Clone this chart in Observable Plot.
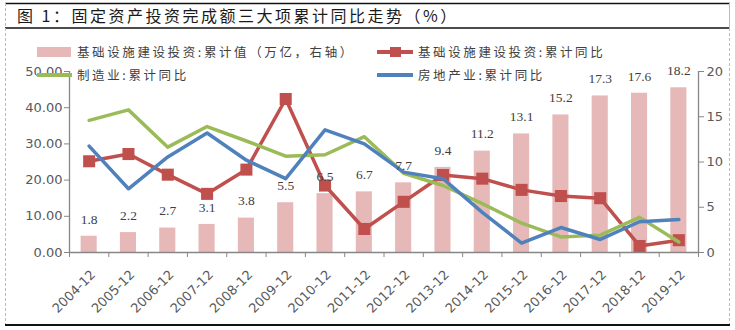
<!DOCTYPE html>
<html><head><meta charset="utf-8">
<script src="https://cdn.jsdelivr.net/npm/d3@7"></script>
<script src="https://cdn.jsdelivr.net/npm/@observablehq/plot@0.6"></script>
<style>
body{margin:0;background:#fff;}
#wrap{position:relative;width:735px;height:330px;overflow:hidden;background:#fff;font-family:"Noto Sans CJK SC",sans-serif;}
#chart{position:absolute;left:0;top:0;}
#deco{position:absolute;left:0;top:0;pointer-events:none;}
.title{position:absolute;left:17px;top:3px;height:25px;line-height:25px;font-size:16px;letter-spacing:2.5px;color:#1a1a1a;white-space:nowrap;}
.lg{position:absolute;font-size:12.5px;letter-spacing:2.6px;color:#404040;white-space:nowrap;line-height:16px;}
.sw{position:absolute;}
</style></head><body>
<div id="wrap">
  <div id="chart"></div>
  <svg id="deco" width="735" height="330">
    <line x1="5" y1="3.5" x2="730" y2="3.5" stroke="#111" stroke-width="1.6"/>
    <line x1="5" y1="28" x2="730" y2="28" stroke="#111" stroke-width="1.4"/>
    <line x1="729.5" y1="3" x2="729.5" y2="28" stroke="#bbb" stroke-width="1"/>
    <line x1="5.5" y1="3" x2="5.5" y2="325" stroke="#bbb" stroke-width="1" stroke-dasharray="3,2"/>
    <line x1="729.5" y1="28" x2="729.5" y2="325" stroke="#bbb" stroke-width="1" stroke-dasharray="3,2"/>
    <line x1="5" y1="325" x2="730" y2="325" stroke="#111" stroke-width="1.8"/>
  </svg>
  <div class="title">图 1：固定资产投资完成额三大项累计同比走势（%）</div>
  <div class="sw" style="left:37px;top:47px;width:34px;height:10px;background:#E6B9B8"></div>
  <div class="lg" style="left:77px;top:44px;">基础设施建设投资:累计值（万亿，右轴）</div>
  <div class="sw" style="left:377px;top:50px;width:36px;height:4px;background:#C0504D"></div>
  <div class="sw" style="left:390px;top:47px;width:11px;height:10px;background:#C0504D"></div>
  <div class="lg" style="left:418px;top:44px;">基础设施建设投资:累计同比</div>
  <div class="sw" style="left:37px;top:73px;width:35px;height:4px;background:#9BBB59"></div>
  <div class="lg" style="left:77px;top:67px;">制造业:累计同比</div>
  <div class="sw" style="left:377px;top:73px;width:36px;height:4px;background:#4F81BD"></div>
  <div class="lg" style="left:418px;top:67px;">房地产业:累计同比</div>
</div>
<script>
const years = ["2004-12","2005-12","2006-12","2007-12","2008-12","2009-12","2010-12","2011-12","2012-12","2013-12","2014-12","2015-12","2016-12","2017-12","2018-12","2019-12"];
const infraCum = [1.8,2.2,2.7,3.1,3.8,5.5,6.5,6.7,7.7,9.4,11.2,13.1,15.2,17.3,17.6,18.2];
const infraYoY = [25.2,27.2,21.5,16.2,22.9,42.4,18.5,6.5,14.0,21.4,20.4,17.3,15.6,15.0,1.8,3.4];
const mfgYoY = [36.5,39.4,29.1,34.8,30.8,26.6,27.0,32.0,21.9,18.5,13.5,8.1,4.3,4.8,9.7,2.9];
const realYoY = [29.4,17.6,26.4,33.0,25.5,20.4,33.9,30.0,22.2,20.4,11.1,2.6,6.9,3.6,8.5,9.1];
const leftTicks = [0,10,20,30,40,50];
const rightTicks = [0,5,10,15,20];
const RATIO = 50 / 20;

const rows = years.map((y, i) => ({i, year: y, cum: infraCum[i], infra: infraYoY[i], mfg: mfgYoY[i], real: realYoY[i]}));
const cx = d => d.i + 0.5;
const axisGray = "#868686";
const textGray = "#595959";

const chart = Plot.plot({
  width: 735, height: 330,
  marginTop: 71, marginBottom: 78, marginLeft: 69, marginRight: 37,
  x: {type: "linear", domain: [0, years.length]},
  y: {domain: [0, 50]},
  style: {fontFamily: "'DejaVu Sans', sans-serif", fontSize: "13px", background: "transparent", color: textGray},
  marks: [
    Plot.rectY(rows, {x1: d => d.i, x2: d => d.i + 1, y1: 0, y2: d => d.cum * RATIO, insetLeft: 11.6, insetRight: 11.6, fill: "#E6B9B8"}),
    Plot.lineY(rows, {x: cx, y: "infra", stroke: "#C0504D", strokeWidth: 3.5}),
    Plot.dot(rows, {x: cx, y: "infra", symbol: "square", r: 6.8, fill: "#C0504D", stroke: "none"}),
    Plot.lineY(rows, {x: cx, y: "mfg", stroke: "#9BBB59", strokeWidth: 3.5}),
    Plot.lineY(rows, {x: cx, y: "real", stroke: "#4F81BD", strokeWidth: 3.5}),
    Plot.text(rows, {x: cx, y: d => d.cum * RATIO, text: d => d.cum.toFixed(1), dy: -17, fill: "#404040", fontSize: 13.5, fontFamily: "'Liberation Serif', serif"}),
    Plot.ruleX([0, years.length], {stroke: axisGray, strokeWidth: 1.3}),
    Plot.ruleY([0], {stroke: axisGray, strokeWidth: 1.3}),
    Plot.axisY({ticks: leftTicks, tickFormat: d => d.toFixed(2), tickSize: 5, tickPadding: 2, anchor: "left", stroke: axisGray, fill: textGray, label: null}),
    Plot.axisY({ticks: rightTicks.map(v => v * RATIO), tickFormat: v => String(v / RATIO), tickSize: 5, tickPadding: 3, anchor: "right", stroke: axisGray, fill: textGray, label: null}),
    Plot.axisX({ticks: d3.range(0, years.length + 1), tickFormat: () => "", tickSize: 5, stroke: axisGray, label: null}),
    Plot.axisX({ticks: years.map((_, i) => i + 0.5), tickFormat: v => years[Math.floor(v)], tickSize: 0, tickPadding: 20, tickRotate: -45, dx: 4, fill: textGray, label: null})
  ]
});
document.getElementById("chart").appendChild(chart);
</script>
</body></html>
